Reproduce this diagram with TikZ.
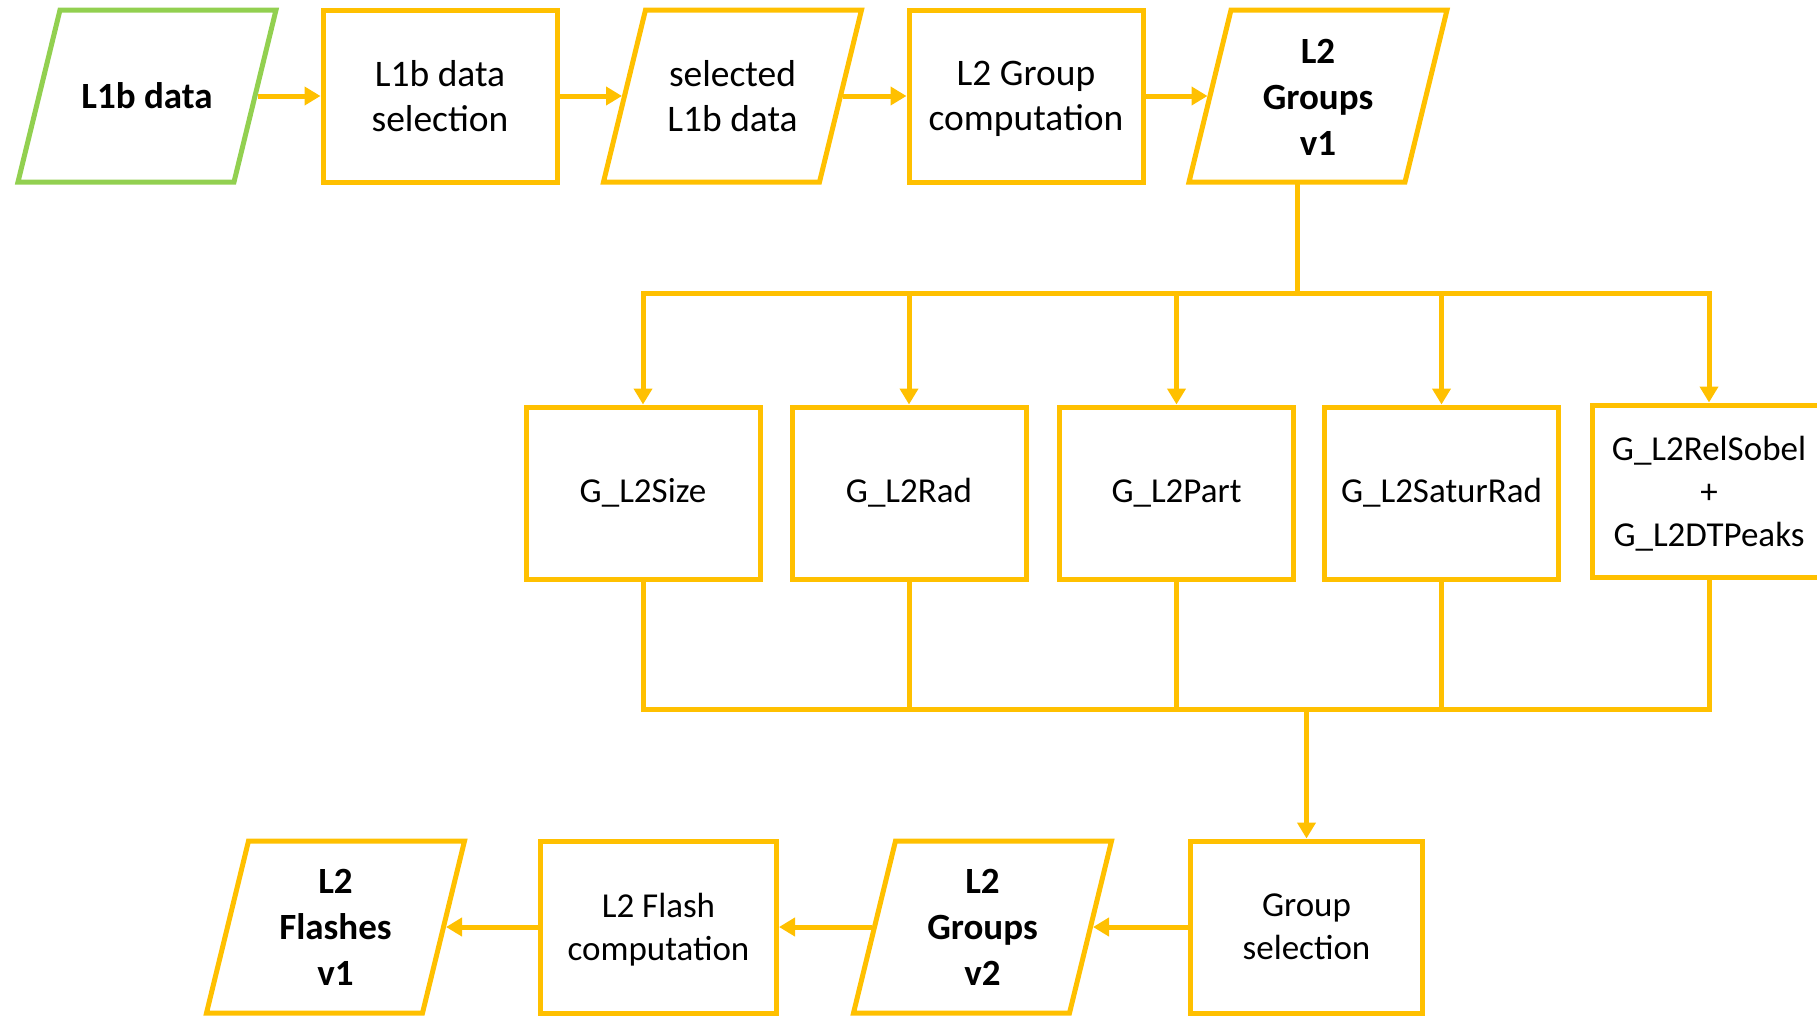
\documentclass[tikz,border=0pt]{standalone}
\usepackage{fontspec}
\setmainfont{Carlito}
\usetikzlibrary{arrows.meta,calc}
\definecolor{gold}{HTML}{FFC000}
\definecolor{leaf}{HTML}{92D050}

\begin{document}
\begin{tikzpicture}[x=1pt,y=-1pt,
  edge/.style={draw=gold, line width=5pt, line cap=rect},
  flow/.style={draw=gold, line width=5pt, -{Triangle[length=16pt,width=18pt]}},
  procbox/.style={draw=gold, line width=5pt, minimum width=234pt, minimum height=172pt,
    inner sep=0pt, align=center, font=\fontsize{35}{43}\selectfont},
  topproc/.style={procbox, font=\fontsize{37.5}{45}\selectfont},
  iobox/.style={minimum width=216pt, minimum height=172pt, inner sep=0pt, outer sep=2.5pt,
    align=center, font=\bfseries\fontsize{37}{46}\selectfont},
  pgram/.style={line width=5pt, line join=miter},
]
\clip (0,0) rectangle (1817,1015);

% top row
\node[iobox]   (l1b)    at (147,96)    {L1b data};
\node[topproc] (sel)    at (440,96)    {L1b data\\selection};
\node[iobox, font=\fontsize{37.5}{45}\selectfont] (sell1b) at (732.5,96) {selected\\L1b data};
\node[topproc] (gcomp)  at (1026,96)   {L2 Group\\\smash{computation}};
\node[iobox]   (grpA)   at (1318,97)   {L2\\Groups\\v1};

% group parameter computations
\node[procbox] (size)   at (643,493)   {G\_L2Size};
\node[procbox] (rad)    at (909,493)   {G\_L2Rad};
\node[procbox] (part)   at (1176.5,493) {G\_L2Part};
\node[procbox] (satur)  at (1441.5,493) {G\_L2SaturRad};
\node[procbox] (relsob) at (1709,491)  {G\_L2RelSobel\\+\\\smash{G\_L2DTPeaks}};

% bottom row
\node[iobox]   (flash)  at (335.5,927) {L2\\Flashes\\v1};
\node[procbox, minimum width=236pt] (fcomp) at (658.5,927) {L2 Flash\\\smash{computation}};
\node[iobox]   (grpB)   at (982.5,927) {L2\\Groups\\v2};
\node[procbox, minimum width=232pt] (gsel)  at (1306.5,927) {Group\\selection};

% data parallelograms
\foreach \n/\c in {l1b/leaf, sell1b/gold, flash/gold, grpB/gold}
  \draw[pgram, draw=\c] ($(\n.center)+(-87,-86)$) -- ($(\n.center)+(129,-86)$)
    -- ($(\n.center)+(87,86)$) -- ($(\n.center)+(-129,86)$) -- cycle;
\draw[pgram, draw=gold] ($(grpA.center)+(-87,-87)$) -- ($(grpA.center)+(129,-87)$)
    -- ($(grpA.center)+(87,85)$) -- ($(grpA.center)+(-129,85)$) -- cycle;

% top row flow
\draw[flow] (l1b.east) -- (sel.west);
\draw[flow] (sel.east) -- (sell1b.west);
\draw[flow] (sell1b.east) -- (gcomp.west);
\draw[flow] (gcomp.east) -- (grpA.west |- gcomp.east);

% fan-out to the parameter computations
\coordinate (split) at ($(grpA.center)+(-21,85)$);
\coordinate (busN) at (0,293);
\coordinate (busS) at (0,709);
\draw[edge] (split) -- (split |- busN);
\draw[edge] (size.north |- busN) -- (relsob.north |- busN);
\foreach \m in {size,rad,part,satur,relsob}
  \draw[flow] (\m.north |- busN) -- (\m.north);

% fan-in to group selection
\foreach \m in {size,rad,part,satur,relsob}
  \draw[edge] (\m.south) -- (\m.south |- busS);
\draw[edge] (size.south |- busS) -- (relsob.south |- busS);
\draw[flow] (gsel.north |- busS) -- (gsel.north);

% bottom row flow
\draw[flow] (gsel.west) -- (grpB.east);
\draw[flow] (grpB.west) -- (fcomp.east);
\draw[flow] (fcomp.west) -- (flash.east);
\end{tikzpicture}
\end{document}
